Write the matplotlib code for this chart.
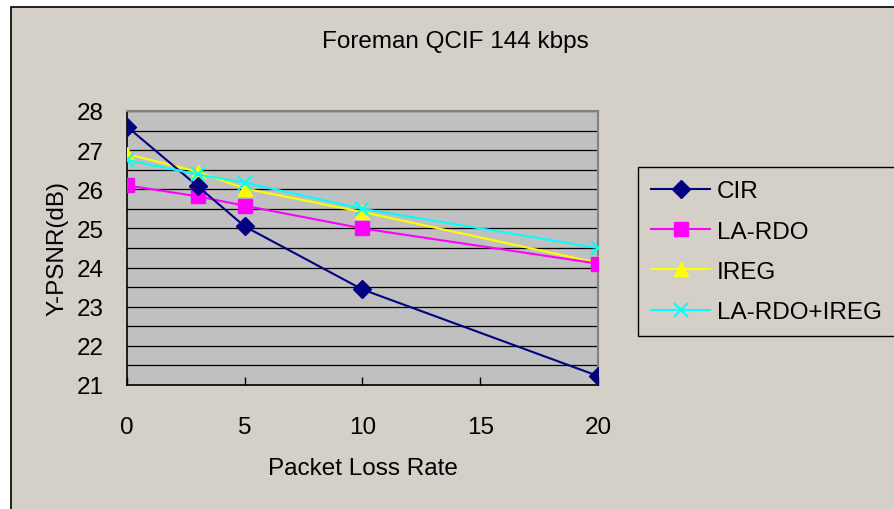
import numpy as np
import matplotlib
matplotlib.use("Agg")
import matplotlib.pyplot as plt
from matplotlib.patches import Rectangle

plt.rcParams['font.family'] = ['Liberation Sans', 'DejaVu Sans']

# loss rates (%) and Y-PSNR values
loss = [0, 3, 5, 10, 20]
cir = [27.6, 26.08, 25.05, 23.44, 21.23]
la_rdo = [26.1, 25.82, 25.58, 25.0, 24.1]
ireg = [26.9, 26.45, 26.02, 25.42, 24.12]
la_rdo_ireg = [26.75, 26.38, 26.17, 25.5, 24.5]

bg = '#D4D0C8'
fs = 17.5

fig = plt.figure(figsize=(8.95, 5.1), dpi=100)
fig.patch.set_facecolor('white')
# chart frame
fig.patches.append(Rectangle((11/895, -0.1), 1.1, 1 - 8/510 + 0.1,
                             transform=fig.transFigure, facecolor=bg,
                             edgecolor='black', lw=1.2, zorder=-10))

ax = fig.add_axes([127/895, 1 - 386/510, 471/895, 274/510])
ax.set_facecolor('#C0C0C0')

ax.plot(loss, cir, color='#000080', lw=1.5, marker='D', ms=9, label='CIR', zorder=5)
ax.plot(loss, la_rdo, color='#FF00FF', lw=1.5, marker='s', ms=9.5, label='LA-RDO', zorder=4)
ax.plot(loss, ireg, color='#FFFF00', lw=1.5, marker='^', ms=10, label='IREG', zorder=3)
ax.plot(loss, la_rdo_ireg, color='#00FFFF', lw=1.5, marker='x', ms=10, mew=1.5,
        label='LA-RDO+IREG', zorder=6)

ax.set_xlim(0, 20)
ax.set_ylim(21, 28)
ax.set_xticks([0, 5, 10, 15, 20])
ax.set_yticks(np.arange(21, 29, 1))
ax.set_yticks(np.arange(21, 28.01, 0.5), minor=True)
ax.grid(True, which='both', axis='y', color='black', lw=0.9)
ax.set_axisbelow(True)
ax.tick_params(axis='x', direction='in', length=6, width=1, pad=22, labelsize=fs)
ax.tick_params(axis='y', direction='in', length=0, pad=17, labelsize=fs)
ax.tick_params(axis='y', which='minor', length=0)

for s in ['top', 'right']:
    ax.spines[s].set_color('#808080')
    ax.spines[s].set_linewidth(1.5)
for s in ['left', 'bottom']:
    ax.spines[s].set_color('black')
    ax.spines[s].set_linewidth(1.2)

ax.set_xlabel('Packet Loss Rate', fontsize=fs, labelpad=14)
ax.set_ylabel('Y-PSNR(dB)', fontsize=fs, labelpad=6)
fig.text(455/895, 1 - 42/510, 'Foreman QCIF 144 kbps', fontsize=fs,
         ha='center', va='center')

leg = fig.legend(loc='upper left', bbox_to_anchor=(638/895, 1 - 168/510),
                 borderaxespad=0, fontsize=fs, handlelength=2.4,
                 labelspacing=0.75, fancybox=False, framealpha=1,
                 facecolor=bg, edgecolor='black', borderpad=0.55,
                 handletextpad=0.3)
leg.get_frame().set_linewidth(1.0)

fig.savefig('out.png', dpi=100, facecolor=fig.get_facecolor())
